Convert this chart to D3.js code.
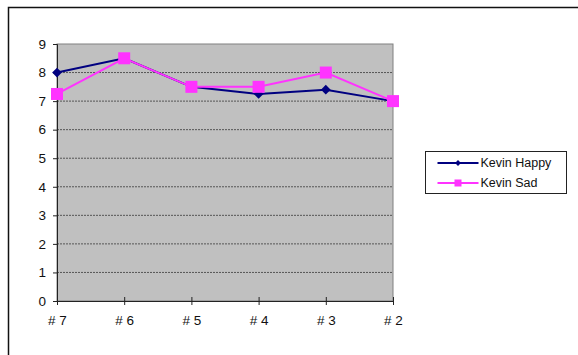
<!DOCTYPE html>
<html>
<head>
<meta charset="utf-8">
<script src="https://cdn.jsdelivr.net/npm/d3@7"></script>
<style>
  body { margin: 0; background: #fff; }
  text { font-family: "Liberation Sans", Arial, sans-serif; }
</style>
</head>
<body>
<svg id="chart" width="578" height="355"></svg>
<script>
var categories = ["# 7", "# 6", "# 5", "# 4", "# 3", "# 2"];
var happy = [8, 8.5, 7.5, 7.25, 7.4, 7];
var sad = [7.25, 8.5, 7.5, 7.5, 8, 7];
var yTicks = [0, 1, 2, 3, 4, 5, 6, 7, 8, 9];
var seriesNames = ["Kevin Happy", "Kevin Sad"];

var margin = {top: 44, right: 185, bottom: 54, left: 57};
var width = 578 - margin.left - margin.right;
var height = 355 - margin.top - margin.bottom;

var root = d3.select("#chart");

// outer frame (only top and left edges visible in the crop)
root.append("rect")
  .attr("x", 8.5).attr("y", 7.5)
  .attr("width", 620).attr("height", 400)
  .attr("fill", "none")
  .attr("stroke", "#111")
  .attr("stroke-width", 1.5);

var svg = root.append("g")
  .attr("transform", "translate(" + margin.left + "," + margin.top + ")");

var x = d3.scalePoint()
  .domain(categories)
  .range([0, width]);
var y = d3.scaleLinear()
  .domain([0, 9])
  .range([height, 0]);

svg.append("rect")
  .attr("width", width).attr("height", height)
  .attr("fill", "#c0c0c0")
  .attr("stroke", "#808080");

// dotted gridlines
svg.selectAll(".grid")
  .data(yTicks.filter(function(d) { return d > 0 && d < 9; }))
  .enter()
  .append("line")
  .attr("x1", 0).attr("x2", width)
  .attr("y1", function(d) { return y(d); })
  .attr("y2", function(d) { return y(d); })
  .attr("stroke", "#555")
  .attr("stroke-dasharray", "2,1");

var yAxis = svg.append("g")
  .call(d3.axisLeft(y).tickValues(yTicks).tickSize(4).tickPadding(7));
yAxis.select(".domain").attr("stroke", "#222");
yAxis.selectAll("line").attr("stroke", "#222");
yAxis.selectAll("text").attr("font-size", 13.5).attr("fill", "#111")
  .attr("font-family", "Liberation Sans, Arial, sans-serif");

var xAxis = svg.append("g")
  .attr("transform", "translate(0," + height + ")")
  .call(d3.axisBottom(x).tickSize(4).tickSizeOuter(0).tickPadding(10));
xAxis.select(".domain").attr("stroke", "#222");
xAxis.selectAll("line").attr("stroke", "#222").attr("y1", -4);
xAxis.selectAll("text").attr("font-size", 13.5).attr("fill", "#111")
  .attr("font-family", "Liberation Sans, Arial, sans-serif");

var line = d3.line()
  .x(function(d, i) { return x(categories[i]); })
  .y(function(d) { return y(d); });

svg.append("path")
  .datum(happy)
  .attr("d", line)
  .attr("fill", "none")
  .attr("stroke", "#000080")
  .attr("stroke-width", 2);

svg.append("path")
  .datum(sad)
  .attr("d", line)
  .attr("fill", "none")
  .attr("stroke", "#ff33ff")
  .attr("stroke-width", 2);

var diamond = d3.symbol().type(d3.symbolDiamond2).size(60);

svg.selectAll(".happy")
  .data(happy)
  .enter()
  .append("path")
  .attr("class", "happy")
  .attr("d", diamond)
  .attr("transform", function(d, i) { return "translate(" + x(categories[i]) + "," + y(d) + ")"; })
  .attr("fill", "#000080");

svg.selectAll(".sad")
  .data(sad)
  .enter()
  .append("rect")
  .attr("class", "sad")
  .attr("x", function(d, i) { return x(categories[i]) - 6; })
  .attr("y", function(d) { return y(d) - 6; })
  .attr("width", 12).attr("height", 12)
  .attr("fill", "#ff33ff");

// legend
var legend = root.append("g")
  .attr("transform", "translate(425.5,151.5)");
legend.append("rect")
  .attr("width", 141).attr("height", 42)
  .attr("fill", "#fff")
  .attr("stroke", "#222");

var colors = ["#000080", "#ff33ff"];
seriesNames.forEach(function(name, i) {
  var ly = 11.5 + i * 20;
  legend.append("line")
    .attr("x1", 12).attr("x2", 53)
    .attr("y1", ly).attr("y2", ly)
    .attr("stroke", colors[i]).attr("stroke-width", 2);
  if (i == 0) {
    legend.append("path")
      .attr("d", d3.symbol().type(d3.symbolDiamond2).size(22))
      .attr("transform", "translate(32.5," + ly + ")")
      .attr("fill", colors[i]);
  } else {
    legend.append("rect")
      .attr("x", 29).attr("y", ly - 3.5)
      .attr("width", 7).attr("height", 7)
      .attr("fill", colors[i]);
  }
  legend.append("text")
    .attr("x", 55).attr("y", ly)
    .attr("dy", "0.35em")
    .attr("font-size", 12.5)
    .attr("fill", "#111")
    .text(name);
});
</script>
</body>
</html>
